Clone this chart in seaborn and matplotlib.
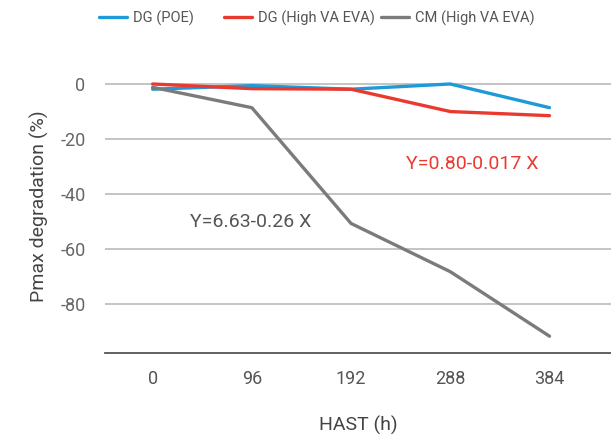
import matplotlib
matplotlib.use("Agg")
import matplotlib.pyplot as plt
import pandas as pd
import seaborn as sns

# HAST hours and Pmax degradation (%)
hast_hours = ["0", "96", "192", "288", "384"]
dg_poe = [-1.9, -0.6, -1.9, 0.0, -8.6]
dg_high_va_eva = [0.0, -1.7, -1.9, -10.0, -11.5]
cm_high_va_eva = [-1.2, -8.6, -50.6, -68.1, -91.5]

series_names = ["DG (POE)", "DG (High VA EVA)", "CM (High VA EVA)"]
series_colors = ["#1f9ad8", "#ea3a30", "#7b7b7b"]
y_ticks = [0, -20, -40, -60, -80]

df = pd.concat([
    pd.DataFrame({"HAST": hast_hours, "Pmax": vals, "series": name})
    for name, vals in zip(series_names, [dg_poe, dg_high_va_eva, cm_high_va_eva])
])

sns.set_style("white")
plt.rcParams["font.family"] = ["Roboto", "DejaVu Sans"]

fig = plt.figure(figsize=(6.11, 4.36), dpi=100)
ax = fig.add_axes([105 / 611, 83 / 436, 1 - 105 / 611, 293 / 436])

sns.lineplot(
    data=df, x="HAST", y="Pmax", hue="series", hue_order=series_names,
    palette=series_colors, linewidth=2.4, sort=False, ax=ax, legend=False,
)

ax.set_xlim(-0.48, 4.62)
ax.set_ylim(-97.6, 8.7)
ax.set_yticks(y_ticks)
ax.set_yticklabels([str(t) for t in y_ticks])
for t in y_ticks:
    ax.axhline(t, color="#b4b4b4", linewidth=1.1, zorder=0)

for side in ["top", "right", "left"]:
    ax.spines[side].set_visible(False)
ax.spines["bottom"].set_color("#555555")
ax.spines["bottom"].set_linewidth(1.3)

ax.tick_params(axis="x", direction="in", length=8, width=1, color="#bdbdbd",
               pad=12, labelsize=13, labelcolor="#555555")
ax.tick_params(axis="y", length=0, pad=14, labelsize=13, labelcolor="#666666")

ax.set_xlabel("HAST (h)", fontsize=14, color="#444444", labelpad=20)
ax.set_ylabel("Pmax degradation (%)", fontsize=14, color="#444444", labelpad=8)

ax.text(2.55, -29, "Y=0.80-0.017 X", color="#ea3a30", fontsize=14, va="center")
ax.text(0.38, -50, "Y=6.63-0.26 X", color="#555555", fontsize=14, va="center")

# legend row above the plot, one entry per slot like the reference
legend_x = [99, 224, 381]
for name, color, lx in zip(series_names, series_colors, legend_x):
    handle = plt.Line2D([], [], color=color, linewidth=2.4)
    fig.legend([handle], [name], loc="center left",
               bbox_to_anchor=(lx / 611, 1 - 18 / 436), frameon=False,
               fontsize=10.5, handlelength=1.9, handletextpad=0.4,
               borderaxespad=0, borderpad=0, labelcolor="#555555")

fig.savefig("out.png", dpi=100)
